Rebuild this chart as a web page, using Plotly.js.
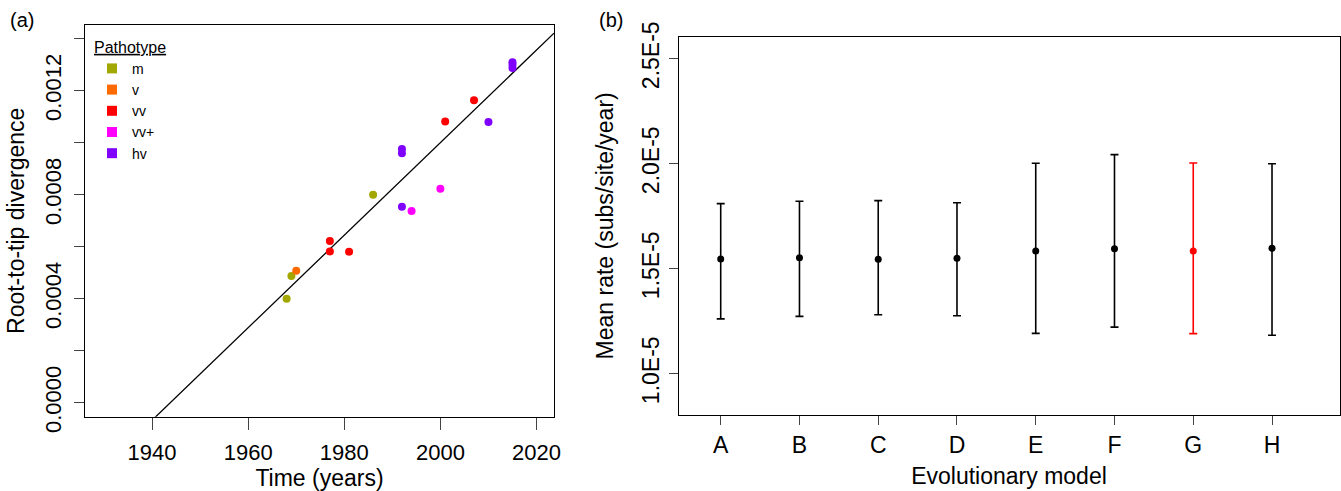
<!DOCTYPE html>
<html>
<head>
<meta charset="utf-8">
<script src="https://cdn.plot.ly/plotly-3.0.1.min.js"></script>
<style>html,body{margin:0;padding:0;background:#fff;}#chart{width:1341px;height:491px;}</style>
</head>
<body>
<div id="chart"></div>
<script>
// ---------- Panel (a): root-to-tip regression ----------
const pathotypes = ["m", "v", "vv", "vv+", "hv"];
const pathotypeColors = ["#a3a800", "#ff6a00", "#ff0000", "#ff00ff", "#7f00ff"];
const sampleYears = [1968, 1969, 1970, 1977, 1977, 1981, 1986, 1992, 1994, 2000, 1992, 1992, 2001, 2007, 2010, 2015, 2015, 2015];
const sampleDivergence = [0.000400, 0.000487, 0.000508, 0.000622, 0.000582, 0.000581, 0.000800, 0.000754, 0.000737, 0.000823, 0.000976, 0.000959, 0.001082, 0.001163, 0.001080, 0.001309, 0.001300, 0.001287];
const samplePathotype = ["m", "m", "v", "vv", "vv", "vv", "m", "hv", "vv+", "vv+", "hv", "hv", "vv", "vv", "hv", "hv", "hv", "hv"];
const fitRate = 1.78e-5;      // slope of regression (subs/site/year)
const fitRootYear = 1943.8;   // x-intercept of regression
const yearTicks = [1940, 1960, 1980, 2000, 2020];
const divTicks = [0, 0.0002, 0.0004, 0.0006, 0.0008, 0.0010, 0.0012, 0.0014];
const divTickText = ["0.0000", "", "0.0004", "", "0.0008", "", "0.0012", ""];

// ---------- Panel (b): mean rates ----------
const models = ["A", "B", "C", "D", "E", "F", "G", "H"];
const meanRate = [1.546e-5, 1.552e-5, 1.545e-5, 1.550e-5, 1.584e-5, 1.595e-5, 1.584e-5, 1.597e-5];
const rateUpper = [1.810e-5, 1.821e-5, 1.824e-5, 1.814e-5, 2.002e-5, 2.043e-5, 2.003e-5, 2.000e-5];
const rateLower = [1.261e-5, 1.273e-5, 1.281e-5, 1.276e-5, 1.192e-5, 1.222e-5, 1.191e-5, 1.183e-5];
const modelColors = ["#000000", "#000000", "#000000", "#000000", "#000000", "#000000", "#ff0000", "#000000"];
const rateTicks = [1.0e-5, 1.5e-5, 2.0e-5, 2.5e-5];
const rateTickText = ["1.0E-5", "1.5E-5", "2.0E-5", "2.5E-5"];

const W = 1341, H = 491;
const FONT = "Liberation Sans, Arial, Helvetica, sans-serif";
const xRangeA = [1926.05, 2023.64];
const yRangeA = [-0.0000538, 0.0014527];

const traces = [];

// regression line
traces.push({
  type: "scatter", mode: "lines", xaxis: "x", yaxis: "y",
  x: xRangeA, y: xRangeA.map(t => fitRate * (t - fitRootYear)),
  line: {color: "#000", width: 1.3}, showlegend: false, hoverinfo: "skip"
});

pathotypes.forEach((p, i) => {
  const idx = samplePathotype.map((s, k) => s === p ? k : -1).filter(k => k >= 0);
  traces.push({
    type: "scatter", mode: "markers", xaxis: "x", yaxis: "y",
    x: idx.map(k => sampleYears[k]), y: idx.map(k => sampleDivergence[k]),
    marker: {color: pathotypeColors[i], size: 8, line: {width: 0}},
    name: p, legendgroup: p, showlegend: false
  });
  // legend entry (square glyph)
  traces.push({
    type: "scatter", mode: "markers", xaxis: "x", yaxis: "y",
    x: [null], y: [null],
    marker: {color: pathotypeColors[i], size: 10, symbol: "square", line: {width: 0}},
    name: p, legendgroup: p, showlegend: true
  });
});

// panel b: group by colour
const colourGroups = [...new Set(modelColors)];
colourGroups.forEach(c => {
  const idx = modelColors.map((mc, k) => mc === c ? k : -1).filter(k => k >= 0);
  traces.push({
    type: "scatter", mode: "markers", xaxis: "x2", yaxis: "y2",
    x: idx.map(k => models[k]), y: idx.map(k => meanRate[k]),
    marker: {color: c, size: 7},
    error_y: {
      type: "data", symmetric: false,
      array: idx.map(k => rateUpper[k] - meanRate[k]),
      arrayminus: idx.map(k => meanRate[k] - rateLower[k]),
      color: c, thickness: 1.6, width: 4
    },
    showlegend: false
  });
});

const axisCommon = {
  showline: true, mirror: true, linecolor: "#000", linewidth: 1,
  showgrid: false, zeroline: false, ticks: "outside", tickcolor: "#444", tickwidth: 1,
  tickfont: {family: FONT, size: 22, color: "#000"}
};

const layout = {
  width: W, height: H,
  margin: {l: 0, r: 0, t: 0, b: 0},
  paper_bgcolor: "#fff", plot_bgcolor: "#fff",
  font: {family: FONT, color: "#000"},
  showlegend: true,
  legend: {
    x: 92 / W, y: 1 - 32 / H, xanchor: "left", yanchor: "top",
    bgcolor: "rgba(0,0,0,0)", borderwidth: 0, tracegroupgap: 0,
    font: {family: FONT, size: 14, color: "#000"},
    title: {text: "Pathotype", font: {family: FONT, size: 16, color: "#000", lineposition: "under"}},
    itemclick: false
  },
  xaxis: Object.assign({}, axisCommon, {
    domain: [85 / W, 554 / W], range: xRangeA,
    tickmode: "array", tickvals: yearTicks, ticktext: yearTicks.map(String),
    ticklen: 12, ticklabelstandoff: 4, anchor: "y",
    title: {text: "Time (years)", font: {family: FONT, size: 23}, standoff: 18}
  }),
  yaxis: Object.assign({}, axisCommon, {
    domain: [1 - 416.7 / H, 1 - 25 / H], range: yRangeA,
    tickmode: "array", tickvals: divTicks, ticktext: divTickText,
    tickangle: -90, ticklen: 10, ticklabelstandoff: 4, anchor: "x",
    title: {text: "Root-to-tip divergence", font: {family: FONT, size: 23}, standoff: 10}
  }),
  xaxis2: Object.assign({}, axisCommon, {
    domain: [678.5 / W, 1339.5 / W], range: [-0.536, 7.857],
    type: "category", categoryorder: "array", categoryarray: models,
    ticklen: 9, anchor: "y2", tickfont: {family: FONT, size: 23, color: "#000"},
    title: {text: "Evolutionary model", font: {family: FONT, size: 23}, standoff: 11}
  }),
  yaxis2: Object.assign({}, axisCommon, {
    domain: [1 - 415 / H, 1 - 36.7 / H], range: [0.8033e-5, 2.6048e-5],
    tickmode: "array", tickvals: rateTicks, ticktext: rateTickText,
    tickangle: -90, ticklen: 9, anchor: "x2", tickfont: {family: FONT, size: 23, color: "#000"},
    title: {text: "Mean rate (subs/site/year)", font: {family: FONT, size: 23}, standoff: 18}
  }),
  annotations: [
    {text: "(a)", xref: "paper", yref: "paper", x: 8 / W, y: 1 - 20 / H, xanchor: "left", yanchor: "middle",
     showarrow: false, font: {family: FONT, size: 20, color: "#000"}},
    {text: "(b)", xref: "paper", yref: "paper", x: 597 / W, y: 1 - 20 / H, xanchor: "left", yanchor: "middle",
     showarrow: false, font: {family: FONT, size: 20, color: "#000"}}
  ]
};

Plotly.newPlot("chart", traces, layout, {staticPlot: true, displayModeBar: false});
</script>
</body>
</html>
